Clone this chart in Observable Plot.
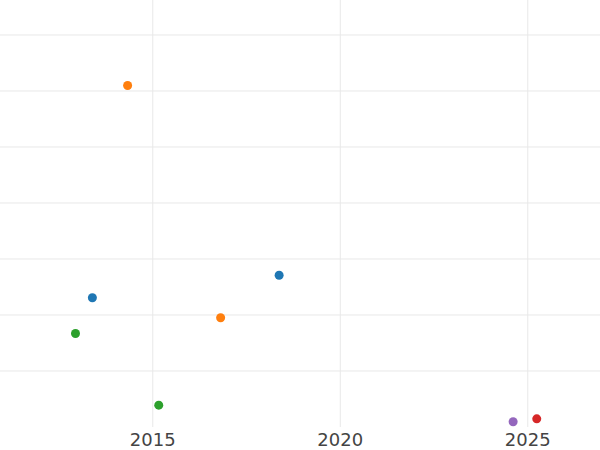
<!DOCTYPE html>
<html>
<head>
<meta charset="utf-8">
<script src="https://cdn.jsdelivr.net/npm/d3@7"></script>
<script src="https://cdn.jsdelivr.net/npm/@observablehq/plot@0.6"></script>
<style>
  html, body { margin: 0; padding: 0; background: #fff; }
  #chart { width: 600px; height: 450px; }
</style>
</head>
<body>
<div id="chart"></div>
<script>
const years  = [2013.39, 2018.37, 2014.33, 2016.81, 2012.94, 2015.16, 2025.24, 2024.61];
const values = [23.07, 27.1, 60.98, 19.5, 16.7, 3.9, 1.46, 0.93];
const series = ["A", "A", "B", "B", "C", "C", "D", "E"];
const seriesNames = ["A", "B", "C", "D", "E"];
const seriesColors = ["#1f77b4", "#ff7f0e", "#2ca02c", "#d62728", "#9467bd"];
const xTicks = [2015, 2020, 2025];
const yTicks = [10, 20, 30, 40, 50, 60, 70];

const data = years.map((x, i) => ({x, y: values[i], s: series[i]}));

const chart = Plot.plot({
  width: 600,
  height: 450,
  marginTop: 0,
  marginRight: 0,
  marginBottom: 23,
  marginLeft: 0,
  style: {fontFamily: "DejaVu Sans", background: "#fff"},
  x: {domain: [2010.94, 2026.94], label: null, axis: null},
  y: {domain: [-0.09, 76.16], label: null, axis: null},
  color: {domain: seriesNames, range: seriesColors},
  marks: [
    Plot.gridX(xTicks, {stroke: "#e8e8e8", strokeOpacity: 1, strokeWidth: 1}),
    Plot.gridY(yTicks, {stroke: "#e8e8e8", strokeOpacity: 1, strokeWidth: 1}),
    Plot.axisX(xTicks, {tickSize: 0, tickPadding: 6, fontSize: 18, fill: "#444", label: null, tickFormat: d => String(d)}),
    Plot.dot(data, {x: "x", y: "y", fill: "s", r: 4.5, stroke: null})
  ]
});
document.getElementById("chart").appendChild(chart);
</script>
</body>
</html>
